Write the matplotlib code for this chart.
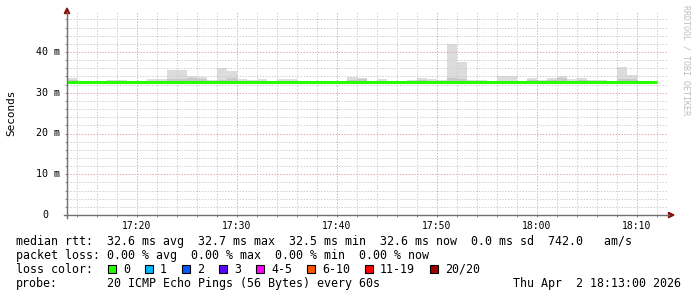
#!/usr/bin/env python3
# smokeping style latency graph (rrdtool look)

import numpy as np
import pandas as pd
import matplotlib
matplotlib.use("Agg")
import matplotlib.pyplot as plt
import matplotlib.dates as mdates
from matplotlib.lines import Line2D
from matplotlib.patches import Polygon, Rectangle

# ---------- DATA ----------
start = "2026-04-02 17:13"
end = "2026-04-02 18:13"

# per minute median rtt (ms)
median = [32.6, 32.6, 32.6, 32.6, 32.6, 32.6, 32.6, 32.6, 32.6, 32.6,
          32.6, 32.6, 32.6, 32.6, 32.6, 32.6, 32.6, 32.6, 32.6, 32.6,
          32.6, 32.6, 32.6, 32.6, 32.6, 32.6, 32.6, 32.6, 32.6, 32.6,
          32.6, 32.65, 32.55, 32.55, 32.6, 32.6, 32.65, 32.6, 32.6, 32.6,
          32.6, 32.6, 32.6, 32.6, 32.65, 32.55, 32.6, 32.65, 32.6, 32.6,
          32.6, 32.6, 32.6, 32.6, 32.6, 32.6, 32.6, 32.6, 32.6]
# highest ping of each minute (outer smoke)
smoke_max = [33.6, 32.9, 32.8, 32.8, 33.1, 33.1, 32.8, 32.9, 33.4, 33.4,
             35.6, 35.6, 34.1, 33.8, 33.1, 36.1, 35.3, 33.4, 33.1, 33.4,
             32.9, 33.4, 33.4, 33.0, 32.9, 32.9, 33.0, 33.0, 33.9, 33.6,
             33.0, 33.4, 32.9, 32.9, 33.1, 33.6, 33.4, 33.1, 42.0, 37.5,
             33.1, 33.1, 32.9, 34.1, 34.1, 32.6, 33.6, 33.2, 33.6, 34.1,
             33.4, 33.6, 33.1, 33.1, 33.0, 36.4, 34.4, 32.8, 32.8]
# inner (denser) smoke top
smoke_mid = [33.1, 32.7, 32.7, 32.7, 32.8, 32.8, 32.7, 32.7, 33.0, 33.0,
             33.4, 33.4, 33.6, 33.4, 32.9, 33.1, 33.5, 33.0, 32.8, 33.0,
             32.7, 33.0, 33.0, 32.8, 32.7, 32.7, 32.8, 32.8, 33.1, 33.3,
             32.8, 33.0, 32.7, 32.7, 33.0, 33.2, 33.0, 32.8, 33.5, 33.4,
             32.8, 32.8, 32.7, 33.0, 33.0, 32.5, 33.1, 32.9, 33.1, 33.5,
             33.0, 33.1, 32.8, 32.8, 32.8, 33.4, 33.3, 32.7, 32.7]
# lowest ping of each minute
smoke_min = [32.3, 32.3, 32.3, 32.3, 32.3, 32.4, 32.4, 32.4, 32.4, 32.4,
             32.4, 32.4, 32.4, 32.4, 32.4, 32.4, 32.4, 32.4, 32.4, 32.4,
             32.4, 32.4, 32.4, 32.4, 32.4, 32.4, 32.4, 32.4, 32.4, 32.4,
             32.4, 32.5, 32.1, 32.1, 32.4, 32.4, 32.5, 32.4, 32.4, 32.4,
             32.4, 32.4, 32.4, 32.4, 32.5, 32.2, 32.4, 32.5, 32.4, 32.4,
             32.4, 32.4, 32.4, 32.4, 32.4, 32.4, 32.4, 32.4, 32.4]

ytick_vals = [0, 10, 20, 30, 40]
ytick_labels = ["0", "10 m", "20 m", "30 m", "40 m"]
ymax = 50

loss_labels = ["0", "1", "2", "3", "4-5", "6-10", "11-19", "20/20"]
loss_colors = ["#26ff00", "#00b8ff", "#0059ff", "#5e00ff", "#ff00ff",
               "#ff5500", "#ff0000", "#a10000"]

legend_lines = [
    "median rtt:  32.6 ms avg  32.7 ms max  32.5 ms min  32.6 ms now  0.0 ms sd  742.0   am/s",
    "packet loss: 0.00 % avg  0.00 % max  0.00 % min  0.00 % now",
]
probe_text = "20 ICMP Echo Pings (56 Bytes) every 60s"
stamp = "Thu Apr  2 18:13:00 2026"

# ---------- PLOT ----------
W, H = 697, 297
MONO = "DejaVu Sans Mono"

def fx(x):
    return x / W

def fy(y):
    return 1 - y / H

fig = plt.figure(figsize=(W / 100, H / 100), dpi=100)
ax = fig.add_axes([fx(67), fy(215), 600 / W, (215 - 11.25) / H])

edges = pd.date_range(start, periods=len(median) + 1, freq="min")
x = mdates.date2num(edges)
w = 1 / 1440

lo = np.array(smoke_min)
mid = np.array(smoke_mid)
hi = np.array(smoke_max)
ax.bar(x[:-1], hi - lo, bottom=lo, width=w, align="edge", color="#dcdcdc", lw=0, zorder=1)
ax.bar(x[:-1], mid - lo, bottom=lo, width=w, align="edge", color="#c8c8c8", lw=0, zorder=1)
ax.stairs(median, x, baseline=None, color="#26ff00", lw=2.2, zorder=2)

ax.set_xlim(pd.Timestamp(start), pd.Timestamp(end))
ax.set_ylim(0, ymax)

ax.xaxis.set_major_locator(mdates.MinuteLocator(byminute=range(0, 60, 10)))
ax.xaxis.set_minor_locator(mdates.MinuteLocator(byminute=[m for m in range(0, 60, 2) if m % 10]))
ax.xaxis.set_major_formatter(mdates.DateFormatter("%H:%M"))
ax.set_yticks(ytick_vals)
ax.set_yticks([v for v in range(2, ymax, 2) if v % 10], minor=True)

ax.set_axisbelow("line")
ax.grid(which="minor", color="#cccccc", lw=0.7, ls=(0, (1.4, 1.6)))
ax.grid(which="major", color="#eba3a3", lw=0.7, ls=(0, (1.4, 1.6)))

ax.tick_params(which="both", length=1.5, width=0.7, color="#888888", direction="out")
ax.tick_params(axis="x", labelsize=7, pad=3.0)
ax.tick_params(axis="y", labelleft=False)
for lbl in ax.get_xticklabels():
    lbl.set_family(MONO)
for s in ax.spines.values():
    s.set_visible(False)

# y tick labels, digits column aligned like rrdtool
for v, lab in zip(ytick_vals, ytick_labels):
    off = 7 if " " in lab else 7 + 2 * 6.0
    ax.text(-off / 600, v, lab, transform=ax.get_yaxis_transform(),
            ha="right", va="center", fontsize=7.2, family=MONO)

# axes lines with arrows
axis_col = "#707070"
fig.add_artist(Line2D([fx(67), fx(67)], [fy(218), fy(12)], color=axis_col, lw=1))
fig.add_artist(Line2D([fx(64), fx(669)], [fy(215), fy(215)], color=axis_col, lw=1))
fig.add_artist(Polygon([(fx(67), fy(8)), (fx(64.3), fy(13.5)), (fx(69.7), fy(13.5))],
                       closed=True, color="#8b1010", transform=fig.transFigure))
fig.add_artist(Polygon([(fx(674), fy(215)), (fx(668.5), fy(212.3)), (fx(668.5), fy(217.7))],
                       closed=True, color="#8b1010", transform=fig.transFigure))

fig.text(fx(11), fy(113), "Seconds", rotation=90, ha="center", va="center",
         fontsize=7.9, family=MONO)
fig.text(fx(686), fy(60), "RRDTOOL / TOBI OETIKER", rotation=270, ha="center",
         va="center", fontsize=6, family=MONO, color="#bdbdbd")

# ---------- LEGEND ----------
fs = 8.4
cw = 7.0
base = [245, 259, 273, 287]
for i, line in enumerate(legend_lines):
    fig.text(fx(16), fy(base[i]), line, fontsize=fs, family=MONO, va="baseline")

fig.text(fx(16), fy(base[2]), "loss color:", fontsize=fs, family=MONO, va="baseline")
bx = 108
for lab, col in zip(loss_labels, loss_colors):
    fig.add_artist(Rectangle((fx(bx), fy(base[2])), 8 / W, 8 / H, transform=fig.transFigure,
                             facecolor=col, edgecolor="black", lw=0.8))
    fig.text(fx(bx + 15), fy(base[2]), lab, fontsize=fs, family=MONO, va="baseline")
    bx = bx + 15 + len(lab) * cw + 15

fig.text(fx(16), fy(base[3]), "probe:", fontsize=fs, family=MONO, va="baseline")
fig.text(fx(107), fy(base[3]), probe_text, fontsize=fs, family=MONO, va="baseline")
fig.text(fx(681), fy(base[3]), stamp, fontsize=fs, family=MONO, va="baseline", ha="right")

fig.savefig("out.png", dpi=100)
